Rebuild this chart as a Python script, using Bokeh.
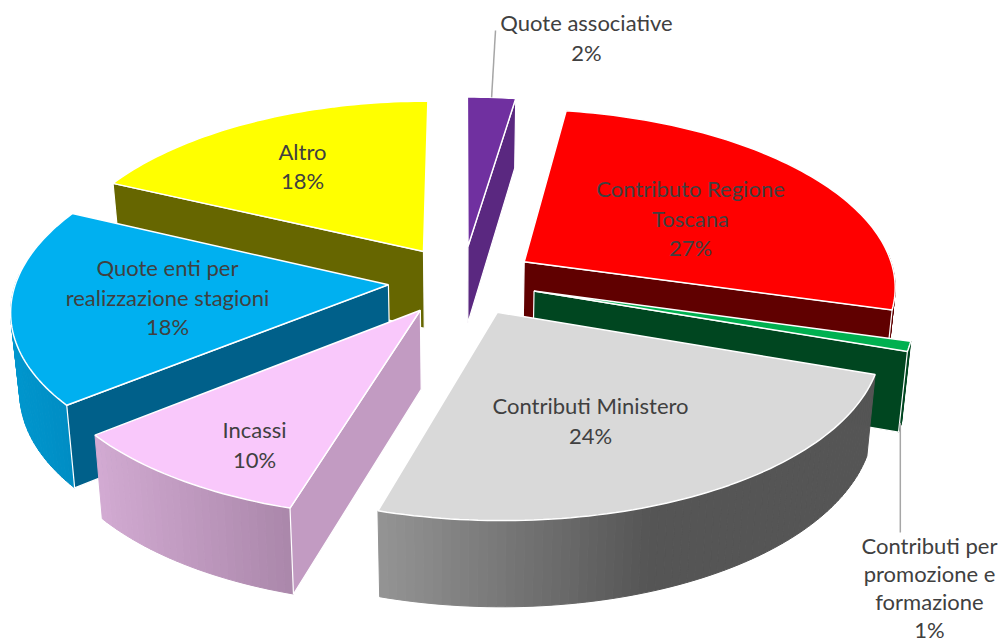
import math
from bokeh.plotting import figure
from bokeh.models import Range1d
from bokeh.core.properties import value
from bokeh.embed import file_html
from bokeh.resources import INLINE

# --- data (clockwise from 12 o'clock)
categories = ["Quote associative", "Contributo Regione Toscana", "Contributi per promozione e formazione",
              "Contributi Ministero", "Incassi", "Quote enti per realizzazione stagioni", "Altro"]
shares = [2.4, 27.0, 0.9, 24.3, 9.5, 17.9, 18.0]
label_lines = [["Quote associative", "2%"], ["Contributo Regione", "Toscana", "27%"],
               ["Contributi per", "promozione e", "formazione", "1%"], ["Contributi Ministero", "24%"],
               ["Incassi", "10%"], ["Quote enti per", "realizzazione stagioni", "18%"], ["Altro", "18%"]]

# --- styles
top_colors = ["#7030A0", "#FF0000", "#00B050", "#D9D9D9", "#F9C8FB", "#00B0F0", "#FFFF00"]
radial_colors = ["#5A2880", "#600000", "#004620", "#7F7F7F", "#C29BC2", "#00608A", "#666600"]
wall_left = [(90, 40, 128), (96, 0, 0), (0, 70, 32), (148, 148, 148), (210, 170, 210), (0, 150, 205), (102, 102, 0)]
wall_right = [(90, 40, 128), (96, 0, 0), (0, 70, 32), (85, 85, 85), (170, 135, 170), (0, 140, 195), (102, 102, 0)]
gradient_span = [1, 1, 1, 0.55, 1, 1, 1]
paint_order = [0, 6, 1, 2, 5, 4, 3]
label_anchor = [(586, 37), (690, 217.5), (929, 587), (590, 420), (254, 444), (167, 296.5), (302, 165.5)]
label_step = [29.5, 29.5, 28, 29.5, 29.5, 29.5, 29.5]

# --- pie geometry (screen pixels)
CX, CY, RX, RY, PERSP_X, PERSP_Y, EXPLODE = 462, 280, 372, 175, 0.13, 0.12, 0.2
DEPTH, DEPTH_SLOPE, BOTTOM_SCALE = 78, 7, 0.98

def project(u, v):
    return CX + RX * u / (1 + PERSP_X * v), CY - RY * v / (1 + PERSP_Y * v)

def lower(pt, v):
    return CX + BOTTOM_SCALE * (pt[0] - CX), pt[1] + DEPTH - DEPTH_SLOPE * v

p = figure(width=1002, height=644, x_range=Range1d(0, 1002), y_range=Range1d(644, 0),
           output_backend="svg", toolbar_location=None, min_border=0, outline_line_color=None)
p.axis.visible = False
p.grid.visible = False
p.background_fill_color = "white"

total = sum(shares)
cum = [0]
for s in shares:
    cum.append(cum[-1] + s)

def hexc(c):
    return "#%02x%02x%02x" % tuple(int(round(x)) for x in c)

for i in paint_order:
    a0 = 2 * math.pi * cum[i] / total
    a1 = 2 * math.pi * cum[i + 1] / total
    mid = (a0 + a1) / 2
    au, av = EXPLODE * math.sin(mid), EXPLODE * math.cos(mid)
    n = max(6, int(shares[i] * 3))
    angs = [a0 + (a1 - a0) * k / n for k in range(n + 1)]
    rim_uv = [(au + math.sin(a), av + math.cos(a)) for a in angs]
    rim = [project(*q) for q in rim_uv]
    rim_low = [lower(project(*q), q[1]) for q in rim_uv]
    apex = project(au, av)
    apex_low = lower(apex, av)
    # outer wall: only strips that face the viewer, shaded left to right
    xmin = min(q[0] for q in rim)
    xmax = max(q[0] for q in rim)
    xs, ys, cs = [], [], []
    for k in range(n):
        if math.cos((angs[k] + angs[k + 1]) / 2) > 0.05:
            continue
        xs.append([rim[k][0], rim[k + 1][0], rim_low[k + 1][0], rim_low[k][0]])
        ys.append([rim[k][1], rim[k + 1][1], rim_low[k + 1][1], rim_low[k][1]])
        t = ((rim[k][0] + rim[k + 1][0]) / 2 - xmin) / max(1, xmax - xmin)
        t = min(1, t / gradient_span[i])
        cs.append(hexc([l + (r - l) * t for l, r in zip(wall_left[i], wall_right[i])]))
    if xs:
        p.patches(xs, ys, fill_color=cs, line_color=cs, line_width=1)
    # radial walls that face the viewer
    if math.sin(a0) < -1e-6:
        p.patch([apex[0], rim[0][0], rim_low[0][0], apex_low[0]], [apex[1], rim[0][1], rim_low[0][1], apex_low[1]],
                fill_color=radial_colors[i], line_color="white", line_width=1.2)
    if math.sin(a1) > 1e-6:
        p.patch([apex[0], rim[-1][0], rim_low[-1][0], apex_low[0]], [apex[1], rim[-1][1], rim_low[-1][1], apex_low[1]],
                fill_color=radial_colors[i], line_color="white", line_width=1.2)
    # top face
    p.patch([apex[0]] + [q[0] for q in rim], [apex[1]] + [q[1] for q in rim],
            fill_color=top_colors[i], line_color="white", line_width=1.5)

# leader lines
def rim_point(i):
    m = 2 * math.pi * (cum[i] + cum[i + 1]) / 2 / total
    u = EXPLODE * math.sin(m) + math.sin(m)
    v = EXPLODE * math.cos(m) + math.cos(m)
    return project(u, v), v

pt0, _ = rim_point(0)
p.line([pt0[0], 495], [pt0[1], 30], line_color="#A6A6A6", line_width=1.5)
pt2, v2 = rim_point(2)
low2 = lower(pt2, v2)
p.line([low2[0], low2[0]], [low2[1] - 4, 532], line_color="#A6A6A6", line_width=1.5)

# labels
for lines, (x, yc), step in zip(label_lines, label_anchor, label_step):
    for j, t in enumerate(lines):
        p.text([x], [yc + (j - (len(lines) - 1) / 2) * step], text=[t], text_align="center", text_baseline="middle",
               text_font=value("Lato"), text_font_size="22px", text_color="#404040")

open("out.html", "w").write(file_html(p, INLINE))
